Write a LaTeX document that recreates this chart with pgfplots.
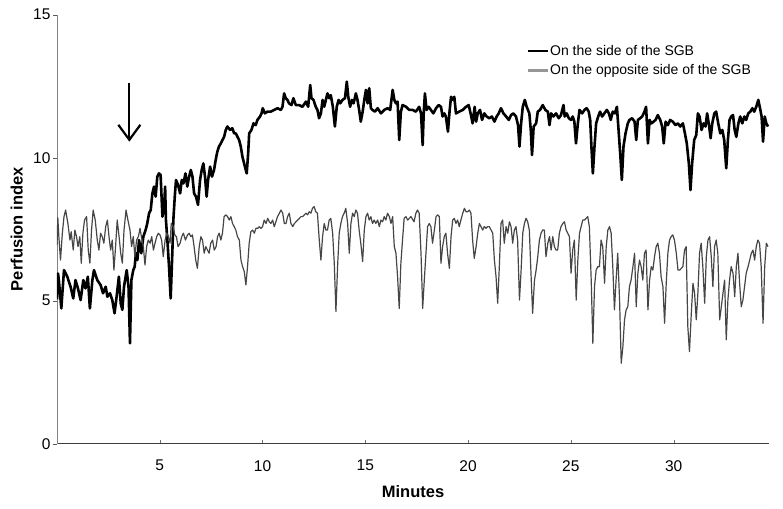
\documentclass[border=0pt]{standalone}
\usepackage{pgfplots}
\usepackage{pgfplotstable}
\pgfplotsset{compat=1.18}
\usetikzlibrary{arrows.meta}
\usepackage{fontspec}
\setmainfont{Liberation Sans}

\pgfplotstableread{
x y
0.00 5.05
0.05 5.95
0.09 5.72
0.21 4.73
0.34 6.07
0.50 5.84
0.66 5.49
0.79 5.08
0.90 5.72
1.02 5.43
1.15 5.02
1.28 5.72
1.39 5.43
1.50 5.84
1.60 4.73
1.72 5.72
1.80 6.07
1.96 5.72
2.12 5.55
2.24 5.26
2.37 5.49
2.45 5.14
2.58 5.26
2.69 5.02
2.80 4.56
2.90 5.14
3.01 5.84
3.10 4.91
3.18 4.68
3.26 5.49
3.39 6.07
3.48 5.49
3.55 3.51
3.62 5.72
3.71 6.07
3.78 6.19
3.84 6.66
3.91 6.42
3.99 7.12
4.10 6.66
4.20 7.24
4.31 7.47
4.39 7.70
4.48 8.06
4.56 8.17
4.64 8.75
4.72 8.99
4.80 8.64
4.88 9.34
4.96 9.45
5.04 9.40
5.13 7.94
5.21 8.29
5.26 8.99
5.30 7.82
5.37 7.12
5.45 6.19
5.53 5.08
5.61 6.66
5.66 7.82
5.73 8.64
5.79 9.22
5.89 9.05
5.99 8.75
6.07 9.22
6.15 9.10
6.25 9.45
6.34 8.99
6.41 9.28
6.51 9.57
6.59 9.34
6.67 8.75
6.76 8.64
6.86 8.35
6.96 9.22
7.04 9.57
7.12 9.80
7.20 9.34
7.28 8.64
7.35 9.22
7.45 9.69
7.54 9.34
7.64 9.57
7.72 9.92
7.80 10.21
7.88 10.39
7.97 10.50
8.05 10.62
8.13 10.73
8.21 10.97
8.29 11.09
8.42 10.97
8.53 11.03
8.62 10.85
8.70 10.85
8.78 10.73
8.86 10.62
8.94 10.39
9.02 10.04
9.14 9.69
9.23 9.45
9.30 10.15
9.35 10.85
9.46 10.97
9.56 11.20
9.67 11.14
9.75 11.32
9.88 11.44
9.95 11.55
10.01 11.73
10.11 11.55
10.24 11.61
10.40 11.61
10.56 11.67
10.73 11.73
10.89 11.67
10.97 11.78
11.05 12.25
11.13 12.08
11.21 12.02
11.29 11.90
11.41 11.84
11.50 12.08
11.62 11.84
11.78 11.84
11.94 11.78
12.11 11.96
12.22 11.78
12.32 12.54
12.38 12.08
12.48 12.02
12.59 11.78
12.67 11.67
12.75 11.38
12.84 11.55
12.92 12.02
13.00 11.78
13.08 12.02
13.16 12.25
13.24 12.08
13.32 12.19
13.42 11.78
13.52 11.09
13.61 11.78
13.70 12.02
13.78 11.90
13.89 12.02
14.01 12.08
14.10 12.66
14.17 12.13
14.26 11.78
14.35 12.02
14.43 11.90
14.54 12.25
14.62 12.02
14.70 11.67
14.78 11.26
14.87 11.61
14.95 12.02
15.03 12.37
15.11 11.90
15.19 12.43
15.27 11.73
15.35 11.67
15.47 11.61
15.60 11.73
15.76 11.55
15.92 11.67
16.08 11.73
16.21 11.67
16.33 12.37
16.41 12.02
16.49 11.90
16.57 11.96
16.65 10.62
16.73 11.61
16.81 11.84
16.98 11.78
17.14 11.67
17.30 11.67
17.46 11.61
17.62 11.78
17.71 11.55
17.79 10.44
17.84 11.55
17.90 12.25
17.98 11.67
18.08 11.78
18.19 11.67
18.31 11.55
18.44 11.73
18.57 11.84
18.68 11.78
18.76 11.44
18.84 11.55
18.92 11.44
19.02 10.91
19.09 11.55
19.17 12.13
19.25 12.02
19.33 12.13
19.41 11.55
19.57 11.61
19.74 11.67
19.90 11.78
20.03 11.84
20.14 11.49
20.22 11.20
20.32 11.78
20.39 11.26
20.47 11.55
20.58 11.67
20.68 11.32
20.79 11.55
20.90 11.44
21.03 11.38
21.16 11.44
21.28 11.26
21.39 11.44
21.49 11.55
21.60 11.73
21.72 11.55
21.85 11.44
21.98 11.32
22.09 11.49
22.20 11.55
22.33 11.44
22.43 11.14
22.50 10.39
22.58 11.20
22.66 11.78
22.76 12.02
22.85 11.78
22.98 11.55
23.05 10.97
23.11 10.09
23.19 11.09
23.31 11.20
23.39 11.61
23.50 11.67
23.63 11.84
23.76 11.67
23.88 11.61
23.96 11.14
24.04 11.55
24.15 11.44
24.28 11.55
24.41 11.38
24.52 11.49
24.64 11.84
24.70 11.44
24.80 11.55
24.90 11.38
25.01 11.32
25.09 11.44
25.17 11.26
25.25 10.50
25.34 11.20
25.42 11.67
25.55 11.55
25.66 11.67
25.77 11.73
25.87 11.61
25.94 11.32
26.00 10.39
26.07 9.45
26.15 10.39
26.23 11.20
26.33 11.44
26.42 11.61
26.52 11.44
26.63 11.55
26.75 11.67
26.85 11.55
26.94 11.32
27.04 11.61
27.14 11.55
27.24 11.78
27.32 10.97
27.40 10.15
27.48 9.22
27.56 10.39
27.66 10.85
27.77 11.20
27.85 11.32
27.98 11.38
28.10 11.26
28.18 10.62
28.26 11.32
28.37 11.38
28.47 11.44
28.58 11.61
28.66 11.78
28.75 10.50
28.83 11.32
28.92 11.20
29.02 11.26
29.12 11.32
29.23 11.49
29.35 11.32
29.44 11.09
29.52 10.50
29.61 11.26
29.72 11.14
29.83 11.32
29.96 11.26
30.09 11.14
30.21 11.20
30.32 11.09
30.45 11.20
30.55 10.85
30.64 10.50
30.74 9.80
30.82 8.87
30.90 9.80
31.00 10.62
31.10 10.79
31.18 11.55
31.26 11.44
31.36 10.97
31.46 11.20
31.55 11.09
31.63 11.55
31.72 11.14
31.80 10.68
31.88 11.20
31.98 11.55
32.07 11.61
32.17 11.20
32.27 10.85
32.37 10.97
32.46 10.62
32.56 9.63
32.64 10.62
32.72 11.32
32.80 11.44
32.89 11.49
32.97 10.97
33.05 10.73
33.15 11.20
33.24 11.44
33.34 11.20
33.44 11.44
33.53 11.32
33.63 11.55
33.73 11.61
33.83 11.73
33.92 11.61
34.02 11.78
34.12 12.02
34.22 11.67
34.28 11.44
34.35 10.56
34.43 11.44
34.51 11.20
34.59 11.09
}\sidetable

\pgfplotstableread{
x y
0.00 6.95
0.04 7.90
0.09 7.24
0.17 6.42
0.26 7.36
0.34 7.94
0.42 8.17
0.53 7.70
0.63 7.12
0.69 7.41
0.79 6.77
0.87 7.47
0.95 7.24
1.02 6.89
1.11 7.24
1.18 6.31
1.26 7.36
1.34 7.82
1.44 7.94
1.52 6.77
1.60 6.31
1.68 7.47
1.76 8.17
1.86 7.82
1.96 7.12
2.04 6.77
2.12 7.36
2.20 7.24
2.28 7.01
2.37 7.59
2.45 7.82
2.53 7.24
2.61 6.77
2.69 7.12
2.77 6.07
2.85 6.89
2.93 7.82
3.02 7.24
3.10 6.66
3.18 6.31
3.26 7.47
3.36 8.17
3.45 7.82
3.55 7.47
3.63 6.89
3.71 7.24
3.79 6.54
3.87 7.12
3.96 7.24
4.04 7.53
4.12 7.18
4.20 6.89
4.28 6.25
4.36 6.89
4.44 7.12
4.53 7.01
4.61 7.24
4.69 6.77
4.77 7.01
4.85 7.24
4.93 7.36
5.01 7.30
5.09 7.12
5.17 6.54
5.26 7.12
5.34 7.36
5.42 7.24
5.50 7.01
5.56 7.70
5.65 7.59
5.73 7.30
5.81 7.24
5.89 6.89
5.99 7.01
6.07 7.24
6.15 7.36
6.25 7.12
6.35 7.30
6.43 7.36
6.51 7.24
6.59 7.30
6.67 6.89
6.75 6.42
6.83 6.13
6.92 6.89
7.00 7.24
7.08 7.12
7.16 6.66
7.24 6.89
7.32 6.77
7.40 6.66
7.48 7.01
7.57 7.12
7.65 6.77
7.74 6.89
7.81 7.24
7.89 7.36
7.97 7.12
8.05 7.36
8.13 7.94
8.22 8.00
8.30 7.94
8.38 7.82
8.46 7.94
8.54 7.70
8.62 7.59
8.70 7.47
8.78 7.24
8.87 7.12
8.95 6.42
9.03 6.19
9.11 6.02
9.19 5.55
9.27 6.19
9.35 7.01
9.43 7.41
9.52 7.47
9.60 7.36
9.68 7.53
9.76 7.53
9.84 7.59
9.92 7.53
10.00 7.59
10.08 7.82
10.17 7.70
10.25 7.88
10.33 7.76
10.41 7.70
10.49 7.82
10.57 7.59
10.65 7.76
10.73 7.94
10.82 8.06
10.90 8.17
10.98 8.06
11.06 7.70
11.14 7.70
11.22 7.94
11.30 8.06
11.38 7.70
11.47 7.59
11.55 7.70
11.63 7.76
11.71 7.82
11.79 7.88
11.87 7.94
11.95 7.94
12.03 8.00
12.11 8.06
12.19 8.00
12.27 8.11
12.35 8.06
12.43 8.23
12.51 8.29
12.59 8.11
12.67 8.06
12.76 7.12
12.84 6.42
12.92 7.24
13.00 7.70
13.08 7.47
13.16 7.47
13.24 7.82
13.32 7.88
13.41 7.36
13.49 6.31
13.57 4.62
13.65 6.19
13.73 7.36
13.81 7.70
13.89 7.94
13.97 8.06
14.05 8.23
14.14 7.70
14.22 6.66
14.30 7.70
14.38 8.06
14.46 7.94
14.54 8.17
14.62 8.06
14.70 7.47
14.78 7.01
14.87 6.37
14.95 7.47
15.03 7.94
15.11 8.06
15.19 7.82
15.27 7.94
15.35 7.70
15.43 7.82
15.51 7.70
15.60 7.82
15.68 7.59
15.76 7.82
15.84 7.76
15.92 7.94
16.00 7.82
16.08 8.06
16.17 7.94
16.25 7.70
16.33 7.94
16.41 6.89
16.49 6.66
16.57 5.84
16.65 4.73
16.73 6.31
16.81 7.12
16.89 7.88
16.98 7.94
17.06 7.82
17.22 7.94
17.37 7.76
17.46 8.06
17.54 8.17
17.62 8.06
17.71 6.66
17.79 4.73
17.87 5.72
17.95 6.66
18.03 7.59
18.11 7.70
18.19 7.59
18.27 7.01
18.36 7.47
18.44 7.94
18.52 8.00
18.60 7.94
18.68 6.31
18.76 6.89
18.84 7.24
18.92 7.36
19.00 6.66
19.09 6.13
19.17 7.24
19.25 7.82
19.33 7.88
19.41 7.70
19.49 7.82
19.57 7.59
19.65 7.82
19.74 8.06
19.82 8.23
19.90 8.11
19.98 8.11
20.06 8.17
20.14 8.06
20.22 7.12
20.30 6.48
20.39 6.89
20.47 7.36
20.55 7.70
20.63 7.59
20.71 7.47
20.79 7.59
20.87 7.53
20.95 7.59
21.03 7.59
21.12 7.47
21.20 7.36
21.28 6.42
21.36 5.84
21.44 4.91
21.52 6.19
21.60 7.70
21.68 7.82
21.76 7.01
21.85 7.59
21.93 7.36
22.01 7.76
22.09 7.59
22.17 7.01
22.25 7.47
22.33 7.59
22.41 7.12
22.50 5.02
22.58 6.07
22.66 7.36
22.74 7.70
22.82 7.88
22.90 7.76
22.98 7.47
23.06 5.96
23.14 4.56
23.23 5.72
23.31 6.07
23.39 6.54
23.47 7.12
23.55 7.36
23.63 7.47
23.71 7.47
23.79 6.54
23.88 7.01
23.96 7.24
24.04 6.77
24.12 7.24
24.20 6.89
24.28 6.77
24.36 6.77
24.44 7.36
24.52 7.59
24.61 7.70
24.69 7.76
24.77 7.47
24.85 7.36
24.93 7.24
25.01 5.96
25.09 6.77
25.17 7.12
25.26 5.02
25.34 6.42
25.42 7.36
25.50 7.59
25.58 7.82
25.66 7.82
25.74 7.88
25.82 7.94
25.90 7.59
25.99 5.72
26.07 3.51
26.15 5.49
26.23 6.07
26.31 6.19
26.39 6.19
26.47 7.12
26.55 6.89
26.64 5.61
26.72 6.89
26.80 7.47
26.88 7.59
26.96 7.36
27.04 6.19
27.12 4.68
27.20 5.72
27.28 6.66
27.37 5.02
27.45 2.81
27.53 3.39
27.61 4.33
27.69 4.68
27.77 4.79
27.85 5.49
27.93 5.72
28.02 6.19
28.10 6.66
28.18 4.79
28.26 5.96
28.34 6.42
28.42 6.19
28.50 5.72
28.58 6.66
28.66 6.77
28.75 4.68
28.83 5.72
28.91 6.19
28.99 6.07
29.07 6.54
29.15 6.89
29.23 7.01
29.31 6.66
29.39 5.84
29.48 5.49
29.56 4.21
29.64 5.61
29.72 6.66
29.80 7.12
29.88 7.24
29.96 7.30
30.04 7.12
30.13 6.66
30.21 6.07
30.29 6.07
30.37 6.13
30.45 6.19
30.53 6.77
30.61 6.89
30.69 4.09
30.77 3.22
30.86 4.56
30.94 5.61
31.02 5.26
31.10 4.33
31.18 5.26
31.26 6.66
31.34 7.01
31.42 6.19
31.51 4.91
31.59 6.54
31.67 7.12
31.75 7.24
31.83 6.54
31.91 5.49
31.99 6.89
32.07 7.12
32.15 6.66
32.24 4.33
32.32 4.79
32.40 5.26
32.48 5.72
32.56 3.63
32.64 5.02
32.72 5.72
32.80 6.19
32.89 5.96
32.97 5.14
33.05 6.19
33.13 6.66
33.21 5.61
33.29 4.79
33.37 5.02
33.45 5.49
33.53 5.96
33.62 6.19
33.70 6.42
33.78 6.66
33.86 6.77
33.94 6.42
34.02 6.89
34.10 7.12
34.18 7.01
34.26 6.19
34.35 4.21
34.43 6.19
34.51 7.01
34.59 6.89
}\oppositetable

\definecolor{oppgray}{RGB}{70,70,70}
\definecolor{leggray}{RGB}{150,150,150}
\definecolor{xaxcol}{RGB}{60,60,60}
\definecolor{yaxcol}{RGB}{130,130,130}
\definecolor{xtickcol}{RGB}{110,110,110}
\definecolor{ytickcol}{RGB}{90,90,90}

\begin{document}
\begin{tikzpicture}
\begin{axis}[
  scale only axis,
  width=712pt, height=429pt,
  xmin=0, xmax=34.64,
  ymin=0, ymax=15,
  axis x line=bottom,
  axis y line=left,
  axis line style={-},
  x axis line style={draw=xaxcol, line width=0.9pt},
  y axis line style={draw=yaxcol, line width=0.9pt},
  xtick={5,10,15,20,25,30},
  ytick={0,5,10,15},
  tick align=outside,
  major tick length=4pt,
  x tick style={draw=xtickcol, yshift=4pt},
  y tick style={draw=ytickcol},
  /pgf/number format/assume math mode=true,
  tick label style={font=\fontsize{15.5}{18}\selectfont},
  xticklabel style={yshift=-9pt},
  yticklabel style={xshift=1pt},
  xlabel={\textbf{Minutes}},
  ylabel={\textbf{Perfusion index}},
  label style={font=\fontsize{16.5}{19}\selectfont},
  xlabel style={at={(axis description cs:0.5,0)}, anchor=center, yshift=-48pt},
  ylabel style={at={(axis description cs:-0.0565,0.5)}, anchor=center},
  legend style={draw=none, fill=none, at={(rel axis cs:0.659,0.932)}, anchor=north west,
    font=\fontsize{14}{17}\selectfont, inner sep=0pt, row sep=4.5pt,
    nodes={inner sep=1.5pt}},
  legend cell align=left,
  legend image code/.code={\draw[#1, line width=2.2pt] (0pt,0pt) -- (20pt,0pt);},
]
\addplot[black, line width=2.6pt, line join=round] table[x=x,y=y] {\sidetable};
\addlegendentry{On the side of the SGB}
\addplot[oppgray, line width=1.2pt, line join=round, forget plot] table[x=x,y=y] {\oppositetable};
\addlegendimage{leggray}
\addlegendentry{On the opposite side of the SGB}
\draw[line width=2.2pt, -{Straight Barb[length=15pt,width=22pt,line width=2.2pt]}] (axis cs:3.52,12.60) -- (axis cs:3.52,10.56);
\end{axis}
\pgfresetboundingbox
\path[use as bounding box] (-57pt,-64.3pt) rectangle (726pt,443.7pt);
\end{tikzpicture}
\end{document}
